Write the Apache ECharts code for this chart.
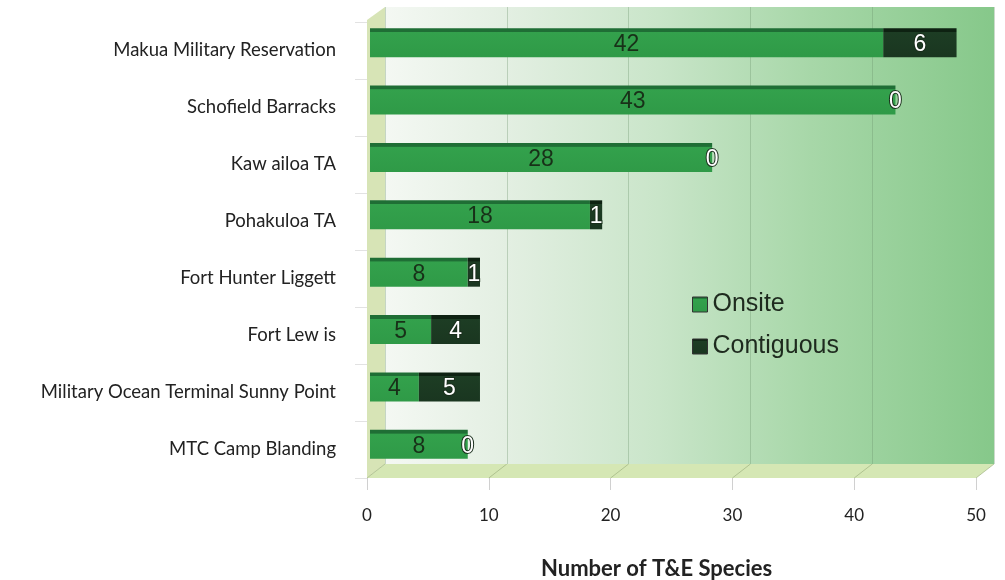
<!DOCTYPE html>
<html><head><meta charset="utf-8">
<script src="https://cdn.jsdelivr.net/npm/echarts@6/dist/echarts.min.js"></script>
<style>html,body{margin:0;padding:0;background:#fff}#c{width:1005px;height:580px}</style>
</head><body><div id="c"></div>
<script>
const categories = ['Makua Military Reservation','Schofield Barracks','Kaw ailoa TA','Pohakuloa TA','Fort Hunter Liggett','Fort Lew is','Military Ocean Terminal Sunny Point','MTC Camp Blanding'];
const onsite = [42,43,28,18,8,5,4,8];
const contiguous = [6,0,0,1,1,4,5,0];
const xTicks = [0,10,20,30,40,50];

const chart = echarts.init(document.getElementById('c'));
const FRONT = {left:367, right:29, top:22, bottom:102};
const DX = 18, DY = 14;
const lab = 'Lato, "DejaVu Sans", sans-serif';

const option = {
  animation:false,
  grid:[
    {left:370, right:24, top:14, bottom:107},
    {left:FRONT.left, right:FRONT.right, top:FRONT.top, bottom:FRONT.bottom},
    {left:FRONT.left+DX, right:FRONT.right-DX, top:FRONT.top-DY-1, bottom:FRONT.bottom+DY, show:true, borderWidth:0, z:0,
     backgroundColor:{type:'linear',x:0,y:0,x2:1,y2:0,colorStops:[
       {offset:0,color:'#f4f8f3'},{offset:0.2,color:'#e3efe2'},{offset:0.45,color:'#c9e5c9'},{offset:0.7,color:'#a7d7a8'},{offset:1,color:'#86c88a'}]}}
  ],
  legend:{
    orient:'vertical', left:687, top:287, itemGap:17, itemWidth:15, itemHeight:15,
    icon:'rect',
    textStyle:{fontFamily:'Arial, "Liberation Sans", sans-serif', fontSize:25, color:'#1e2a1e'},
    itemStyle:{borderColor:'#333', borderWidth:1},
    data:['Onsite','Contiguous']
  },
  title:{text:'Number of T&E Species', left:536, top:553,
    textStyle:{fontFamily:lab, fontWeight:'bold', fontSize:22, color:'#222'}},
  xAxis:[
    {gridIndex:0, type:'value', min:0, max:50, interval:10, show:false},
    {gridIndex:1, type:'value', min:0, max:50, interval:10,
     axisLine:{show:false}, splitLine:{show:false},
     axisTick:{show:true, length:12, lineStyle:{color:'#d0d0d0'}},
     axisLabel:{margin:29, fontFamily:lab, fontSize:17, color:'#222'}},
    {gridIndex:2, type:'value', min:0, max:50, interval:10,
     axisLine:{show:false}, axisTick:{show:false}, axisLabel:{show:false},
     splitLine:{show:true, lineStyle:{color:'rgba(110,150,110,0.35)', width:1}}}
  ],
  yAxis:[
    {gridIndex:0, type:'category', data:categories, inverse:true, show:false},
    {gridIndex:1, type:'category', data:categories, inverse:true,
     axisLine:{show:false},
     axisTick:{show:true, length:12, lineStyle:{color:'#e2e2e2'}},
     axisLabel:{margin:31, fontFamily:lab, fontSize:18.5, color:'#222'}},
    {gridIndex:2, type:'category', data:categories, show:false}
  ],
  series:[
    {name:'Onsite', type:'bar', stack:'t', xAxisIndex:0, yAxisIndex:0, barWidth:29, z:3,
     data:onsite,
     itemStyle:{color:{type:'linear',x:0,y:0,x2:0,y2:1,colorStops:[
       {offset:0,color:'#1f6e35'},{offset:0.12,color:'#1f6e35'},{offset:0.14,color:'#33a14c'},{offset:1,color:'#2f9a47'}]}},
     label:{show:true, position:'inside', fontFamily:'Arial, "Liberation Sans", sans-serif', fontSize:23, color:'#183018', offset:[0,2]}},
    {name:'Contiguous', type:'bar', stack:'t', xAxisIndex:0, yAxisIndex:0, barWidth:29, z:3,
     data:contiguous,
     itemStyle:{color:{type:'linear',x:0,y:0,x2:0,y2:1,colorStops:[
       {offset:0,color:'#0e2212'},{offset:0.12,color:'#0e2212'},{offset:0.14,color:'#1d3d24'},{offset:1,color:'#1a3620'}]}},
     label:{show:true, position:'inside', fontFamily:'Arial, "Liberation Sans", sans-serif', fontSize:23, color:'#ffffff',
       textBorderColor:'#1a2e1c', textBorderWidth:2, offset:[0,2]}}
  ]
};
chart.setOption(option);

// 3D decoration: left wall, floor, floor lines
const x0 = chart.convertToPixel({xAxisIndex:1}, 0);
const x50 = chart.convertToPixel({xAxisIndex:1}, 50);
const yTop = FRONT.top, yBot = 580 - FRONT.bottom;
const g = [
  {type:'polygon', z:-1, shape:{points:[[x0,yTop-2],[x0+DX,yTop-DY-1],[x0+DX,yBot-DY],[x0,yBot]]},
   style:{fill:'#d7e4b6'}},
  {type:'polygon', z:-1, shape:{points:[[x0,yBot],[x0+DX,yBot-DY],[x50+DX,yBot-DY],[x50,yBot]]},
   style:{fill:'#d5e7b4'}}
];
xTicks.forEach(v => {
  const x = chart.convertToPixel({xAxisIndex:1}, v);
  g.push({type:'line', z:-1, shape:{x1:x,y1:yBot,x2:x+DX,y2:yBot-DY}, style:{stroke:'rgba(150,170,120,0.6)', lineWidth:1}});
});
chart.setOption({graphic:g});
</script></body></html>
